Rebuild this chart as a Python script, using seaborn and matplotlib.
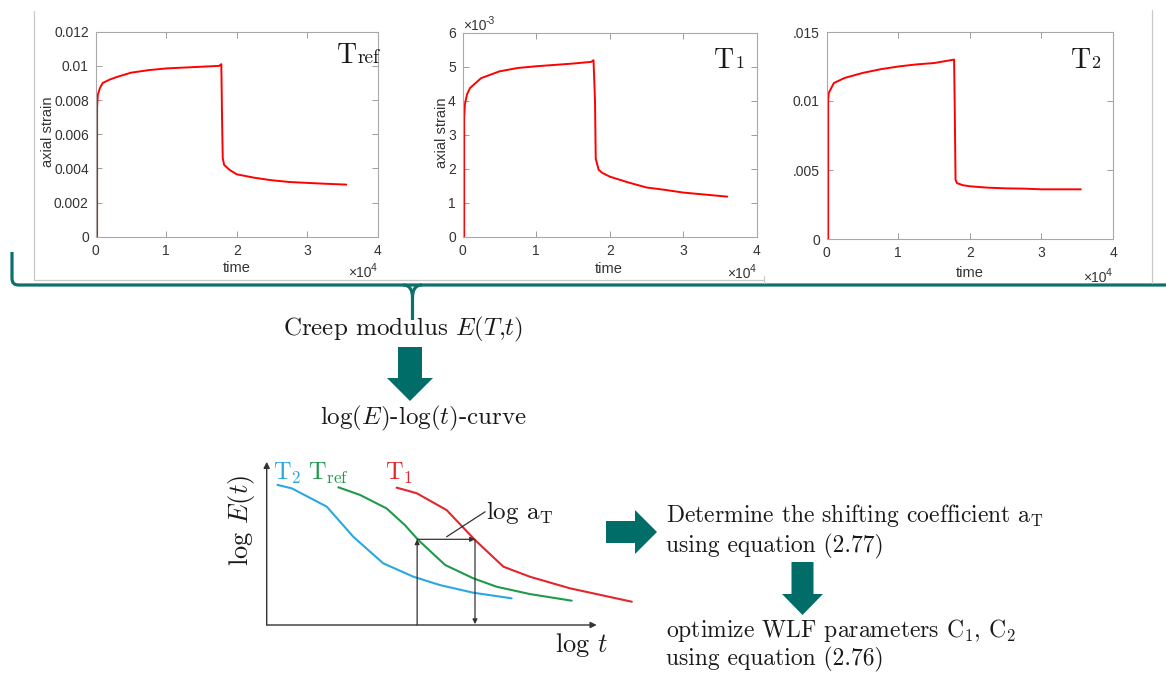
import matplotlib
matplotlib.use("Agg")
import numpy as np
import pandas as pd
import matplotlib.pyplot as plt
import seaborn as sns
from matplotlib.patches import Polygon, PathPatch
from matplotlib.path import Path

# ---------------- data: creep / recovery tests (time in 1e4 s) ----------------
t_ref = [0.02, 0.02, 0.03, 0.06, 0.1, 0.2, 0.3, 0.5, 0.75, 1.0, 1.25, 1.5, 1.75, 1.78,
         1.79, 1.80, 1.82, 1.9, 2.0, 2.25, 2.5, 2.75, 3.0, 3.25, 3.55]
strain_ref = [0, 0.0076, 0.0083, 0.0087, 0.0090, 0.0092, 0.00935, 0.0096, 0.00975,
              0.00985, 0.0099, 0.00995, 0.0100, 0.0101, 0.0070, 0.0046, 0.0042, 0.0039,
              0.00365, 0.00345, 0.0033, 0.0032, 0.00315, 0.0031, 0.00305]

t_1 = [0.02, 0.02, 0.03, 0.06, 0.1, 0.25, 0.5, 0.75, 1.0, 1.25, 1.5, 1.75, 1.78, 1.80, 1.81,
       1.85, 1.9, 2.0, 2.25, 2.5, 2.75, 3.0, 3.25, 3.6]
strain_1 = [0, 3.5, 3.9, 4.2, 4.38, 4.67, 4.87, 4.97, 5.02, 5.06, 5.10, 5.15, 5.20, 4.0, 2.3,
            1.97, 1.88, 1.77, 1.60, 1.45, 1.38, 1.30, 1.25, 1.18]          # x 1e-3

t_2 = [0.02, 0.02, 0.03, 0.06, 0.1, 0.25, 0.5, 0.75, 1.0, 1.25, 1.5, 1.78, 1.79, 1.80, 1.82,
       1.9, 2.0, 2.25, 2.5, 2.75, 3.0, 3.25, 3.55]
strain_2 = [0, 0.0101, 0.0106, 0.0109, 0.0113, 0.01167, 0.01203, 0.0123, 0.0125, 0.01265,
            0.01275, 0.0130, 0.0090, 0.0043, 0.00405, 0.0039, 0.00382, 0.00372, 0.00367,
            0.00365, 0.0036, 0.0036, 0.0036]

time_ticks = [0, 1, 2, 3, 4]
time_labels = ["0", "1", "2", "3", "4"]
ref_yticks = [0, 0.002, 0.004, 0.006, 0.008, 0.010, 0.012]
ref_ylabels = ["0", "0.002", "0.004", "0.006", "0.008", "0.01", "0.012"]
t1_yticks = [0, 1, 2, 3, 4, 5, 6]
t1_ylabels = ["0", "1", "2", "3", "4", "5", "6"]
t2_yticks = [0, 0.005, 0.010, 0.015]
t2_ylabels = ["0", ".005", "0.01", ".015"]

# ---------------- data: schematic log E - log t master curves ----------------
logt_T2 = [0.29, 0.67, 1.61, 2.32, 3.12, 3.93, 4.64, 5.53, 6.56]
logE_T2 = [8.24, 8.04, 6.96, 5.19, 3.63, 2.84, 2.35, 1.90, 1.57]
logt_Tref = [1.92, 2.50, 3.21, 3.70, 4.06, 4.78, 5.53, 6.16, 7.05, 8.17]
logE_Tref = [8.10, 7.65, 6.86, 5.88, 5.00, 3.53, 2.75, 2.25, 1.82, 1.43]
logt_T1 = [3.48, 4.02, 4.82, 5.58, 6.34, 7.05, 8.12, 9.78]
logE_T1 = [8.08, 7.75, 6.76, 5.00, 3.43, 2.84, 2.16, 1.37]
shift_from = 4.03     # log t on T_ref curve
shift_to = 5.58       # log t on T_1 curve
shift_level = 5.04    # log E level of the shift

# ---------------- style ----------------
sns.set_theme(style="white")
plt.rcParams['font.family'] = ['Liberation Sans', 'DejaVu Sans']
plt.rcParams['mathtext.fontset'] = 'cm'
plt.rcParams['axes.unicode_minus'] = False

W, H = 1166, 673
fig = plt.figure(figsize=(W / 100, H / 100), dpi=100)
fig.patch.set_facecolor('white')

def rect(l, t, r, b):
    return [l / W, 1 - b / H, (r - l) / W, (b - t) / H]

CM = ['cmr10', 'DejaVu Serif']
TEAL = '#006d69'
BRACE = '#0d706c'
GREY = '#c8c8c8'
TXT = '#1a1a1a'

# overlay for layout decorations (pixel coordinates), drawn on top
ov = fig.add_axes([0, 0, 1, 1])
ov.set_xlim(0, W)
ov.set_ylim(H, 0)
ov.axis('off')
ov.set_zorder(10)

# screenshot frames
ov.plot([34, 34], [11, 280], color=GREY, lw=0.9)
ov.plot([34, 764], [280, 280], color=GREY, lw=0.9)
ov.plot([764, 764], [276, 283], color=GREY, lw=0.9)
ov.plot([1151.5, 1151.5], [10, 283], color=GREY, lw=0.9)

# brace
brace = Path([(12, 252), (12, 278), (12, 283), (14, 285), (19, 285), (1166, 285)],
             [Path.MOVETO, Path.LINETO, Path.CURVE4, Path.CURVE4, Path.CURVE4, Path.LINETO])
ov.add_patch(PathPatch(brace, fill=False, edgecolor=BRACE, lw=2.3, capstyle='butt'))
spike_l = Path([(403, 285), (409, 285), (412.5, 289), (412.5, 298), (412.5, 320)],
               [Path.MOVETO, Path.CURVE4, Path.CURVE4, Path.CURVE4, Path.LINETO])
spike_r = Path([(422, 285), (416, 285), (412.5, 289), (412.5, 298)],
               [Path.MOVETO, Path.CURVE4, Path.CURVE4, Path.CURVE4])
ov.add_patch(PathPatch(spike_l, fill=False, edgecolor=BRACE, lw=2.3))
ov.add_patch(PathPatch(spike_r, fill=False, edgecolor=BRACE, lw=2.3))

# block arrows
def down_arrow(cx, top, head_y, tip, shaft_w, head_w):
    pts = [(cx - shaft_w / 2, top), (cx + shaft_w / 2, top), (cx + shaft_w / 2, head_y),
           (cx + head_w / 2, head_y), (cx, tip), (cx - head_w / 2, head_y),
           (cx - shaft_w / 2, head_y)]
    ov.add_patch(Polygon(pts, closed=True, facecolor=TEAL, edgecolor='none'))

def right_arrow(cy, left, head_x, tip, shaft_h, head_h):
    pts = [(left, cy - shaft_h / 2), (head_x, cy - shaft_h / 2), (head_x, cy - head_h / 2),
           (tip, cy), (head_x, cy + head_h / 2), (head_x, cy + shaft_h / 2),
           (left, cy + shaft_h / 2)]
    ov.add_patch(Polygon(pts, closed=True, facecolor=TEAL, edgecolor='none'))

down_arrow(410, 347, 378, 401, 24, 46)
right_arrow(532, 606, 635, 657, 22, 44)
down_arrow(802.5, 562, 594, 615, 22, 41)

# flow texts
ov.text(283, 335, r"Creep modulus $E(T{,}t)$", family=CM, fontsize=18, color=TXT,
        ha='left', va='baseline')
ov.text(320, 424, r"log($E$)-log($t$)-curve", family=CM, fontsize=18, color=TXT,
        ha='left', va='baseline')
ov.text(666, 522, r"Determine the shifting coefficient a$_{\mathrm{T}}$", family=CM,
        fontsize=17, color=TXT, ha='left', va='baseline')
ov.text(666, 552, "using equation (2.77)", family=CM, fontsize=17, color=TXT,
        ha='left', va='baseline')
ov.text(666, 637, r"optimize WLF parameters C$_1$, C$_2$", family=CM, fontsize=17,
        color=TXT, ha='left', va='baseline')
ov.text(666, 665, "using equation (2.76)", family=CM, fontsize=17, color=TXT,
        ha='left', va='baseline')

# ---------------- creep panels ----------------
def strain_panel(box, t, s, yticks, ylabels):
    ax = fig.add_axes(rect(*box))
    sns.lineplot(x=t, y=s, ax=ax, color='#ff0000', lw=1.4, estimator=None, sort=False)
    ax.set_xlim(0, 4)
    ax.set_ylim(yticks[0], yticks[-1])
    ax.set_xticks(time_ticks)
    ax.set_xticklabels(time_labels)
    ax.set_yticks(yticks)
    ax.set_yticklabels(ylabels)
    ax.tick_params(direction='in', length=4, width=0.6, color='#8c8c8c',
                   labelcolor='#333333', labelsize=10, bottom=True, left=True,
                   top=True, right=True, labeltop=False, labelright=False, pad=5)
    for sp in ax.spines.values():
        sp.set_visible(True)
        sp.set_color('#a8a8a8')
        sp.set_linewidth(0.8)
    ax.set_xlabel('')
    ax.set_ylabel('')
    ax.set_facecolor('white')
    return ax

strain_panel((95.7, 31.7, 378, 236.7), t_ref, strain_ref, ref_yticks, ref_ylabels)
strain_panel((462.7, 33, 756.7, 236.7), t_1, strain_1, t1_yticks, t1_ylabels)
strain_panel((826.7, 32, 1113, 239), t_2, strain_2, t2_yticks, t2_ylabels)

LBL = '#333333'
for cx, cy in [(236.7, 268), (609, 269), (970, 273)]:
    ov.text(cx, cy, 'time', fontsize=10.5, color=LBL, ha='center', va='center')
for cx, cy in [(47.5, 132), (442.5, 133)]:
    ov.text(cx, cy, 'axial strain', fontsize=10.5, color=LBL, ha='center', va='center',
            rotation=90)
for x0, yb in [(348, 277), (727, 278), (1083, 281.5)]:
    ov.text(x0, yb, '×10', fontsize=10, color=LBL, ha='left', va='baseline')
    ov.text(x0 + 23, yb - 6, '4', fontsize=7.5, color=LBL, ha='left', va='baseline')
ov.text(463, 30, '×10', fontsize=10, color=LBL, ha='left', va='baseline')
ov.text(486, 24, '-3', fontsize=7.5, color=LBL, ha='left', va='baseline')

# temperature tags in panels
ov.text(337, 63.3, 'T', family=CM, fontsize=20, color=TXT, ha='left', va='baseline')
ov.text(358, 63.3, 'ref', family=CM, fontsize=14, color=TXT, ha='left', va='baseline')
ov.text(714, 68.3, 'T', family=CM, fontsize=20, color=TXT, ha='left', va='baseline')
ov.text(735, 68.3, '1', family=CM, fontsize=13, color=TXT, ha='left', va='baseline')
ov.text(1070.5, 68.3, 'T', family=CM, fontsize=20, color=TXT, ha='left', va='baseline')
ov.text(1091.5, 68.3, '2', family=CM, fontsize=13, color=TXT, ha='left', va='baseline')

# ---------------- schematic master-curve plot ----------------
sx = fig.add_axes(rect(266.7, 455, 640, 625))
sx.set_facecolor('none')
df = pd.concat([
    pd.DataFrame({'logt': logt_T2, 'logE': logE_T2, 'T': 'T2'}),
    pd.DataFrame({'logt': logt_Tref, 'logE': logE_Tref, 'T': 'Tref'}),
    pd.DataFrame({'logt': logt_T1, 'logE': logE_T1, 'T': 'T1'}),
], ignore_index=True)
pal = {'T2': '#2aa7e1', 'Tref': '#1f9a4b', 'T1': '#e3262b'}
sns.lineplot(data=df, x='logt', y='logE', hue='T', palette=pal, estimator=None,
             sort=False, lw=1.5, legend=False, ax=sx)
sx.set_xlim(0, 10)
sx.set_ylim(0, 10)
sx.axis('off')

ak = dict(arrowstyle='-|>', color='#333333', lw=1.0, mutation_scale=9, shrinkA=0, shrinkB=0)
sx.annotate('', xy=(8.84, 0), xytext=(0, 0), arrowprops=ak, annotation_clip=False)
sx.annotate('', xy=(0, 9.6), xytext=(0, 0), arrowprops=ak, annotation_clip=False)
ak2 = dict(arrowstyle='-|>', color='#333333', lw=0.9, mutation_scale=7, shrinkA=0, shrinkB=0)
sx.annotate('', xy=(shift_from, shift_level), xytext=(shift_from, 0), arrowprops=ak2)
sx.annotate('', xy=(shift_to, shift_level), xytext=(shift_from, shift_level), arrowprops=ak2)
sx.annotate('', xy=(shift_to, 0.05), xytext=(shift_to, shift_level), arrowprops=ak2)
sx.plot([4.82, 5.85], [5.19, 6.66], color='#333333', lw=0.9)
sx.text(5.88, 6.25, r"log a$_{\mathrm{T}}$", family=CM, fontsize=18, color=TXT,
        ha='left', va='baseline')

sx.text(0.17, 8.53, r"T$_2$", family=CM, fontsize=17.5, color=pal['T2'],
        ha='left', va='baseline')
sx.text(1.1, 8.53, r"T$_{\mathrm{ref}}$", family=CM, fontsize=17.5, color=pal['Tref'],
        ha='left', va='baseline')
sx.text(3.17, 8.53, r"T$_1$", family=CM, fontsize=17.5, color=pal['T1'],
        ha='left', va='baseline')
sx.text(-0.67, 6.18, r"log $E(t)$", family=CM, fontsize=19, color=TXT,
        ha='center', va='center', rotation=90)
sx.text(8.43, -1.18, r"log $t$", family=CM, fontsize=19, color=TXT,
        ha='center', va='center')

fig.savefig('out.png', dpi=100)
